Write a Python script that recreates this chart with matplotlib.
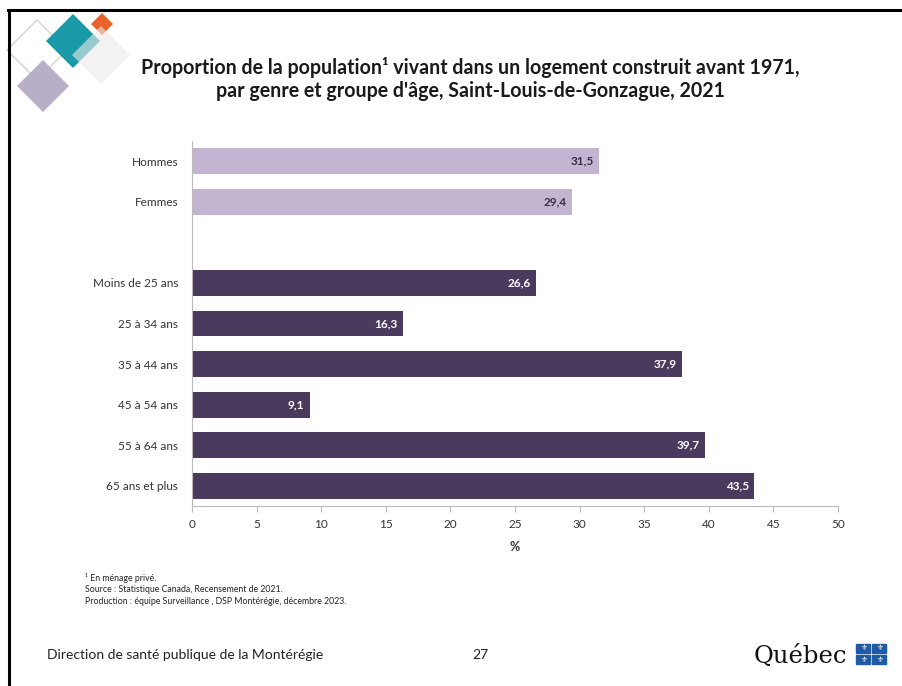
import matplotlib
matplotlib.use("Agg")
import matplotlib.pyplot as plt
from matplotlib.patches import Polygon, Rectangle
import numpy as np

plt.rcParams['font.family'] = ['Lato', 'DejaVu Sans']

categories = ["Hommes", "Femmes", "", "Moins de 25 ans", "25 à 34 ans", "35 à 44 ans",
              "45 à 54 ans", "55 à 64 ans", "65 ans et plus"]
values = [31.5, 29.4, None, 26.6, 16.3, 37.9, 9.1, 39.7, 43.5]
groups = ["genre", "genre", None, "age", "age", "age", "age", "age", "age"]
xticks = [0, 5, 10, 15, 20, 25, 30, 35, 40, 45, 50]

LIGHT = "#C3B4D2"
DARK = "#4A3A5E"

W, H = 902, 686
fig = plt.figure(figsize=(W / 100, H / 100), dpi=100)

def fx(x): return x / W
def fy(y): return 1 - y / H

ax = fig.add_axes([fx(192), fy(506), fx(838) - fx(192), fy(141) - fy(506)])

n = len(categories)
ypos = np.arange(n)
for i, (v, g) in enumerate(zip(values, groups)):
    if v is None:
        continue
    col = LIGHT if g == "genre" else DARK
    ax.barh(i, v, height=0.64, color=col, edgecolor='none')
    tcol = "#3A2E48" if g == "genre" else "white"
    ax.text(v - 0.4, i, f"{v:.1f}".replace(".", ","), ha='right', va='center',
            fontsize=8.5, fontweight='bold', color=tcol)

ax.set_ylim(n - 0.5, -0.5)
ax.set_xlim(0, 50)
ax.set_yticks(ypos)
ax.set_yticklabels(categories, fontsize=8.5, color="#333333")
ax.tick_params(axis='y', length=0, pad=10)
ax.set_xticks(xticks)
ax.set_xticklabels([str(t) for t in xticks], fontsize=8.5, color="#333333")
ax.tick_params(axis='x', length=4, color="#BBBBBB", direction='out', pad=5)
for s in ['top', 'right']:
    ax.spines[s].set_visible(False)
ax.spines['left'].set_color("#BBBBBB")
ax.spines['bottom'].set_color("#BBBBBB")
ax.set_xlabel("%", fontsize=9, fontweight='bold', color="#333333", labelpad=8)

# Title
fig.text(fx(470), fy(67), "Proportion de la population¹ vivant dans un logement construit avant 1971,",
         ha='center', va='center', fontsize=14.1, fontweight='bold', color="#1A1A1A")
fig.text(fx(470), fy(91), "par genre et groupe d'âge, Saint-Louis-de-Gonzague, 2021",
         ha='center', va='center', fontsize=14.1, fontweight='bold', color="#1A1A1A")

# Footnotes
foot = ["¹ En ménage privé.",
        "Source : Statistique Canada, Recensement de 2021.",
        "Production : équipe Surveillance , DSP Montérégie, décembre 2023."]
for k, t in enumerate(foot):
    fig.text(fx(85), fy(578 + 12 * k), t, ha='left', va='center', fontsize=6.3, color="#222222")

# Footer
fig.text(fx(47), fy(655), "Direction de santé publique de la Montérégie", ha='left', va='center',
         fontsize=10, color="#222222")
fig.text(fx(480), fy(655), "27", ha='center', va='center', fontsize=10, color="#222222")
fig.text(fx(754), fy(656), "Québec", ha='left', va='center', fontsize=17.5,
         family=['DejaVu Serif'], color="#111111")
for (cx, cy) in [(863, 648), (879, 648), (863, 659), (879, 659)]:
    fig.patches.append(Rectangle((fx(cx - 7), fy(cy + 4.5)), fx(14), 9 / H,
                                 transform=fig.transFigure, color="#1F5AA6"))
    fig.text(fx(cx), fy(cy), "⚜", ha='center', va='center', fontsize=5.5, color='white',
             family=['DejaVu Sans'])

# Decorative diamonds
def diamond(cx, cy, r, **kw):
    pts = [(fx(cx), fy(cy - r)), (fx(cx + r), fy(cy)), (fx(cx), fy(cy + r)), (fx(cx - r), fy(cy))]
    fig.patches.append(Polygon(pts, closed=True, transform=fig.transFigure, **kw))

diamond(37, 50, 30, facecolor='none', edgecolor="#D5DCD2", linewidth=1.2)
diamond(43, 86, 26, facecolor="#B8AEC8", edgecolor='none')
diamond(73, 41, 27, facecolor="#1A9AA8", edgecolor='none')
diamond(102, 24, 11, facecolor="#E8622A", edgecolor='none')
diamond(101, 55, 29, facecolor="#EDEAE8", edgecolor='none', alpha=0.6)

# Slide border (top and left)
fig.add_artist(plt.Line2D([fx(8), 1], [fy(9.5), fy(9.5)], transform=fig.transFigure,
                          color='black', linewidth=2.2))
fig.add_artist(plt.Line2D([fx(8.5), fx(8.5)], [fy(9.5), 0], transform=fig.transFigure,
                          color='black', linewidth=2.2))

fig.savefig("out.png", dpi=100)
